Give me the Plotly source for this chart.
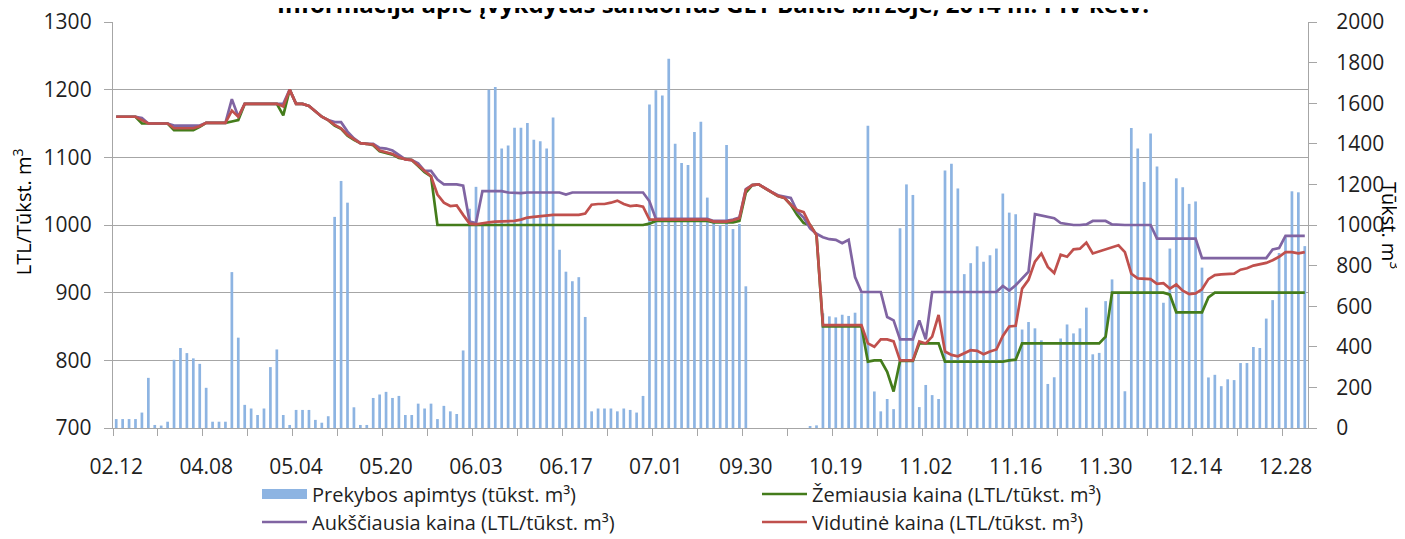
import plotly.graph_objects as go

# ---------------- data ----------------
n_days = 186
day_index = list(range(n_days))

tick_positions = [0, 14, 28, 42, 56, 70, 84, 98, 112, 126, 140, 154, 168, 182]
tick_labels = ["02.12", "04.08", "05.04", "05.20", "06.03", "06.17", "07.01",
               "09.30", "10.19", "11.02", "11.16", "11.30", "12.14", "12.28"]

volume = [
    44, 44, 44, 44, 76, 247, 15, 12, 31, 336,
    394, 369, 343, 316, 198, 31, 31, 31, 768, 445,
    114, 96, 64, 96, 300, 387, 64, 15, 89, 89,
    89, 40, 26, 58, 1040, 1217, 1110, 102, 15, 15,
    148, 165, 178, 148, 158, 64, 64, 120, 96, 120,
    44, 109, 82, 69, 382, 1080, 1188, 1000, 1666, 1680,
    1377, 1392, 1479, 1479, 1503, 1420, 1413, 1377, 1529, 878,
    770, 723, 743, 547, 82, 96, 96, 96, 82, 96,
    89, 76, 158, 1593, 1664, 1638, 1819, 1400, 1305, 1295,
    1458, 1509, 1135, 1010, 1000, 1394, 980, 1005, 698, 0,
    0, 0, 0, 0, 0, 0, 0, 0, 7, 13,
    565, 550, 545, 558, 552, 568, 663, 1489, 180, 82,
    143, 93, 984, 1200, 1148, 103, 212, 162, 143, 1269,
    1302, 1180, 758, 812, 895, 819, 851, 884, 1155, 1061,
    1053, 485, 522, 491, 432, 217, 250, 441, 510, 466,
    491, 593, 363, 370, 625, 732, 670, 181, 1478, 1377,
    1212, 1451, 1288, 617, 884, 1230, 1186, 1104, 1116, 790,
    249, 262, 206, 240, 236, 320, 320, 399, 394, 539,
    630, 862, 940, 1166, 1161, 896,
]

price_low = [
    1160, 1160, 1160, 1160, 1150, 1150, 1150, 1150, 1150, 1140,
    1140, 1140, 1140, 1145, 1151, 1151, 1151, 1151, 1153, 1155,
    1179, 1179, 1179, 1179, 1179, 1179, 1162, 1200, 1179, 1179,
    1176, 1168, 1160, 1155, 1147, 1142, 1132, 1126, 1121, 1120,
    1118, 1109, 1107, 1104, 1099, 1097, 1096, 1087, 1078, 1072,
    1000, 1000, 1000, 1000, 1000, 1000, 1000, 1000, 1000, 1000,
    1000, 1000, 1000, 1000, 1000, 1000, 1000, 1000, 1000, 1000,
    1000, 1000, 1000, 1000, 1000, 1000, 1000, 1000, 1000, 1000,
    1000, 1000, 1000, 1002, 1006, 1006, 1006, 1006, 1006, 1006,
    1006, 1006, 1006, 1004, 1004, 1004, 1004, 1006, 1048, 1059,
    1060, 1054, 1049, 1043, 1040, 1030, 1015, 1003, 1000, 985,
    850, 850, 850, 850, 850, 850, 850, 798, 800, 800,
    783, 754, 799, 799, 799, 825, 825, 825, 825, 798,
    798, 798, 798, 798, 798, 798, 798, 798, 798, 800,
    801, 825, 825, 825, 825, 825, 825, 825, 825, 825,
    825, 825, 825, 825, 835, 900, 900, 900, 900, 900,
    900, 900, 900, 900, 897, 871, 871, 871, 871, 871,
    893, 900, 900, 900, 900, 900, 900, 900, 900, 900,
    900, 900, 900, 900, 900, 900,
]

price_high = [
    1160, 1160, 1160, 1160, 1158, 1150, 1150, 1150, 1150, 1147,
    1147, 1147, 1147, 1147, 1151, 1151, 1151, 1151, 1186, 1160,
    1179, 1179, 1179, 1179, 1179, 1179, 1179, 1200, 1179, 1179,
    1176, 1168, 1160, 1155, 1152, 1152, 1138, 1128, 1121, 1120,
    1120, 1114, 1113, 1110, 1104, 1097, 1096, 1091, 1080, 1080,
    1067, 1060, 1060, 1060, 1058, 1005, 1003, 1050, 1050, 1050,
    1050, 1048, 1047, 1047, 1048, 1048, 1048, 1048, 1048, 1048,
    1045, 1048, 1048, 1048, 1048, 1048, 1048, 1048, 1048, 1048,
    1048, 1048, 1048, 1035, 1009, 1009, 1009, 1009, 1009, 1009,
    1009, 1009, 1009, 1006, 1006, 1006, 1008, 1011, 1053, 1059,
    1060, 1054, 1049, 1044, 1042, 1040, 1020, 1011, 995, 987,
    982, 979, 978, 973, 978, 923, 901, 901, 901, 901,
    864, 859, 831, 831, 831, 859, 831, 901, 901, 901,
    901, 901, 901, 901, 901, 901, 901, 901, 910, 903,
    911, 921, 931, 1016, 1014, 1013, 1010, 1003, 1001, 1000,
    1000, 1001, 1006, 1006, 1006, 1001, 1000, 1000, 1000, 1000,
    1000, 1000, 980, 980, 980, 980, 980, 980, 980, 951,
    951, 951, 951, 951, 951, 951, 951, 951, 951, 951,
    964, 966, 984, 984, 984, 984,
]

price_avg = [
    1160, 1160, 1160, 1160, 1155, 1150, 1150, 1150, 1150, 1143,
    1143, 1143, 1143, 1146, 1151, 1151, 1151, 1151, 1169, 1160,
    1179, 1179, 1179, 1179, 1179, 1179, 1175, 1200, 1179, 1179,
    1176, 1168, 1160, 1155, 1148, 1143, 1133, 1127, 1121, 1120,
    1119, 1110, 1108, 1105, 1100, 1097, 1096, 1088, 1079, 1072,
    1045, 1033, 1028, 1029, 1015, 1002, 1001, 1003, 1004, 1005,
    1005, 1006, 1006, 1008, 1011, 1012, 1013, 1015, 1015, 1015,
    1015, 1015, 1015, 1017, 1030, 1031, 1031, 1033, 1036, 1031,
    1028, 1029, 1027, 1008, 1008, 1008, 1008, 1008, 1008, 1008,
    1008, 1008, 1008, 1005, 1005, 1005, 1007, 1010, 1052, 1059,
    1060, 1054, 1049, 1043, 1040, 1030, 1022, 1019, 1000, 985,
    852, 852, 853, 853, 853, 853, 852, 825, 820, 831,
    831, 828, 800, 800, 800, 828, 825, 835, 867, 813,
    808, 806, 810, 815, 814, 809, 813, 816, 836, 850,
    851, 906, 919, 946, 958, 938, 929, 956, 953, 964,
    965, 974, 958, 961, 964, 968, 970, 960, 928, 921,
    921, 920, 913, 914, 906, 912, 903, 898, 899, 905,
    920, 926, 927, 928, 928, 934, 936, 940, 942, 944,
    948, 953, 960, 960, 958, 960,
]

series_names = [
    "Prekybos apimtys (tūkst. m³)",
    "Žemiausia kaina (LTL/tūkst. m³)",
    "Aukščiausia kaina (LTL/tūkst. m³)",
    "Vidutinė kaina (LTL/tūkst. m³)",
]

# ---------------- styling ----------------
FONT = "'Open Sans', sans-serif"
TXT = "#1f1f1f"
GRID = "#A6A6A6"
C_BAR = "#8DB4E2"
C_LOW = "#447C1B"
C_HIGH = "#8064A2"
C_AVG = "#C0504D"

# the page body has an 8 px margin, so the figure is 8 px smaller than the window
FIG_W, FIG_H = 1397, 531

fig = go.Figure()

# volume bars (main axis, so that the price lines on the overlaying axis sit on top)
fig.add_trace(go.Bar(
    x=day_index, y=volume, name=series_names[0], showlegend=False,
    marker=dict(color=C_BAR, line=dict(width=0)), yaxis="y",
))
# legend proxy giving the bar series a wide rectangular swatch
fig.add_trace(go.Scatter(
    x=[None], y=[None], mode="lines", name=series_names[0],
    line=dict(color=C_BAR, width=13), yaxis="y", legend="legend",
))
for vals, col, nm, lg in [
    (price_low, C_LOW, series_names[1], "legend"),
    (price_high, C_HIGH, series_names[2], "legend2"),
    (price_avg, C_AVG, series_names[3], "legend2"),
]:
    fig.add_trace(go.Scatter(
        x=day_index, y=vals, name=nm, mode="lines",
        line=dict(color=col, width=2.7), yaxis="y2", legend=lg,
    ))

legend_common = dict(
    orientation="h", xanchor="left", yanchor="middle",
    entrywidth=440, entrywidthmode="pixels",
    font=dict(family=FONT, size=20, color=TXT),
    itemwidth=45, tracegroupgap=0, traceorder="normal",
    bgcolor="rgba(0,0,0,0)",
)

fig.update_layout(
    width=FIG_W, height=FIG_H,
    margin=dict(l=105, r=97, t=14, b=111, autoexpand=False),
    paper_bgcolor="white", plot_bgcolor="white",
    font=dict(family=FONT, size=21, color=TXT),
    bargap=0.58,
    showlegend=True,
    legend=dict(x=0.1205, y=-0.1626, **legend_common),
    legend2=dict(x=0.1205, y=-0.2315, **legend_common),
    xaxis=dict(
        range=[-0.5, n_days - 0.5], showgrid=False, zeroline=False, automargin=False,
        showline=True, linecolor=GRID, linewidth=1.3,
        tickmode="array", tickvals=tick_positions, ticktext=tick_labels,
        ticks="", ticklabelstandoff=20, ticklabeloverflow="allow",
        tickfont=dict(family=FONT, size=21, color=TXT),
        minor=dict(tickmode="array",
                   tickvals=[-0.5 + 7 * k for k in range(27)],
                   ticks="outside", ticklen=7, tickcolor=GRID, tickwidth=1.3,
                   showgrid=False),
    ),
    yaxis=dict(
        side="right", range=[0, 2000], dtick=200, tick0=0, automargin=False,
        showgrid=False, zeroline=False,
        showline=True, linecolor=GRID, linewidth=1.3,
        ticks="outside", ticklen=8, tickcolor=GRID, tickwidth=1.3,
        ticklabelstandoff=15, ticklabeloverflow="allow",
        tickfont=dict(family=FONT, size=21, color=TXT),
    ),
    yaxis2=dict(
        overlaying="y", side="left", range=[700, 1300], dtick=100, tick0=700,
        automargin=False,
        showgrid=True, gridcolor=GRID, gridwidth=1.3, zeroline=False,
        showline=True, linecolor=GRID, linewidth=1.3,
        ticks="outside", ticklen=8, tickcolor=GRID, tickwidth=1.3,
        ticklabelstandoff=8, ticklabeloverflow="allow",
        tickfont=dict(family=FONT, size=21, color=TXT),
    ),
    annotations=[
        dict(text="<b>Informacija apie įvykdytus sandorius GET Baltic biržoje, 2014 m. I-IV ketv.</b>",
             xref="paper", yref="paper", x=0.5025, y=1.0, xanchor="center", yanchor="bottom",
             showarrow=False, font=dict(family=FONT, size=24, color="#000000")),
        dict(text="LTL/Tūkst. m<sup>3</sup>", xref="paper", yref="paper",
             x=-0.0762, y=0.534, xanchor="center", yanchor="middle", textangle=-90,
             showarrow=False, font=dict(family=FONT, size=20, color="#000000")),
        dict(text="Tūkst. m<sup>3</sup>", xref="paper", yref="paper",
             x=1.0695, y=0.5, xanchor="center", yanchor="middle", textangle=90,
             showarrow=False, font=dict(family=FONT, size=20, color="#000000")),
    ],
)

fig.write_html("out.html")
